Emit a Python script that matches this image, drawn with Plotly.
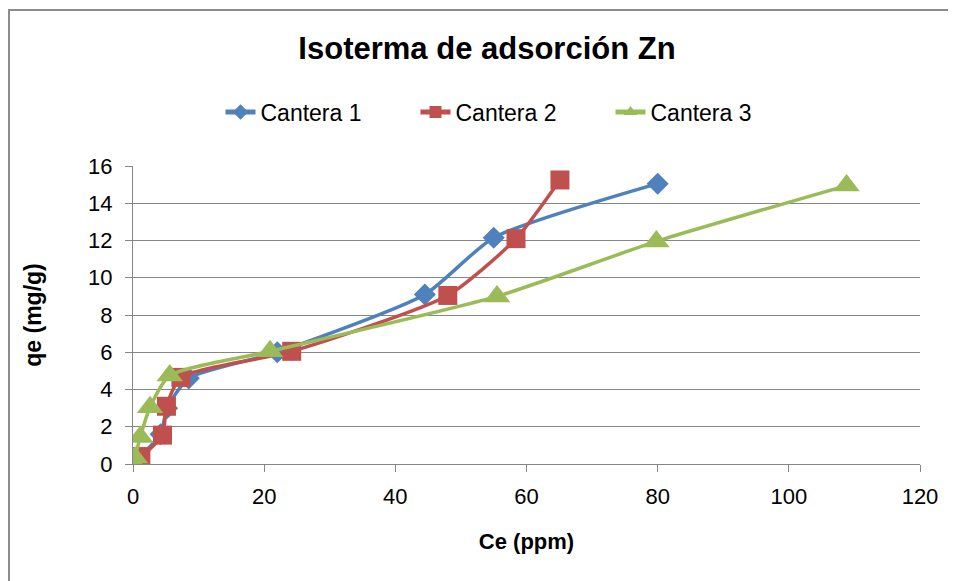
import plotly.graph_objects as go

# Data
ce_c1 = [0.0, 0.8, 4.2, 5.2, 8.5, 22.0, 44.5, 55.0, 80.0]
qe_c1 = [0.1, 0.3, 1.6, 3.0, 4.6, 6.0, 9.1, 12.15, 15.05]

ce_c2 = [0.1, 1.2, 4.5, 5.1, 7.3, 24.2, 48.0, 58.4, 65.1]
qe_c2 = [0.3, 0.4, 1.55, 3.1, 4.65, 6.05, 9.05, 12.1, 15.25]

ce_c3 = [0.0, 0.3, 1.1, 2.6, 5.6, 20.9, 55.5, 79.8, 108.8]
qe_c3 = [0.05, 0.35, 1.45, 3.05, 4.75, 6.05, 9.0, 11.95, 14.95]

names = ["Cantera 1", "Cantera 2", "Cantera 3"]
colors = ["#4F81BD", "#C0504D", "#9BBB59"]
symbols = ["diamond", "square", "triangle-up"]
sizes = [17, 19, 23]

x_ticks = [0, 20, 40, 60, 80, 100, 120]
y_ticks = [0, 2, 4, 6, 8, 10, 12, 14, 16]

FONT = "Liberation Sans, Arial, sans-serif"

fig = go.Figure()
for xs, ys, nm, col, sym, sz in zip([ce_c1, ce_c2, ce_c3], [qe_c1, qe_c2, qe_c3],
                                    names, colors, symbols, sizes):
    fig.add_trace(go.Scatter(
        x=xs, y=ys, name=nm, mode="lines+markers",
        line=dict(color=col, width=3.5, shape="spline", smoothing=0.6),
        marker=dict(symbol=sym, size=sz, color=col),
    ))

# page has an 8px body margin; figure coordinates are screen - 8
OFF = 8
W, H = 948, 573
L, T = 133 - OFF, 166 - OFF
R = W - (920 - OFF)
B = H - (464 - OFF)
pw, ph = W - L - R, H - T - B

fig.update_layout(
    width=W, height=H,
    margin=dict(l=L, r=R, t=T, b=B),
    paper_bgcolor="white", plot_bgcolor="white",
    font=dict(family=FONT, color="#000000"),
    title=dict(text="<b>Isoterma de adsorción Zn</b>", x=(487 - OFF) / W, xanchor="center",
               y=1 - (48 - OFF) / H, yanchor="middle", xref="container", yref="container",
               font=dict(size=31, family=FONT, color="#000000")),
    legend=dict(orientation="h", x=(513 - OFF - L) / pw, xanchor="center",
                y=(H - B - (112 - OFF)) / ph, yanchor="middle",
                font=dict(size=23, family=FONT), itemsizing="constant",
                entrywidth=150, entrywidthmode="pixels", bgcolor="rgba(0,0,0,0)"),
    showlegend=True,
)

fig.update_xaxes(
    range=[0, 120], tickvals=x_ticks, ticktext=[str(v) for v in x_ticks],
    showgrid=False, zeroline=False, showline=True, linecolor="#868686", linewidth=1,
    ticks="outside", ticklen=7, tickcolor="#868686", ticklabelstandoff=6,
    tickfont=dict(size=22, family=FONT, color="#000000"),
    title=dict(text="<b>Ce (ppm)</b>", font=dict(size=22, family=FONT), standoff=25),
)
fig.update_yaxes(
    range=[0, 16], tickvals=y_ticks, ticktext=[str(v) for v in y_ticks],
    showgrid=True, gridcolor="#868686", gridwidth=1,
    zeroline=False, showline=True, linecolor="#868686", linewidth=1,
    ticks="outside", ticklen=7, tickcolor="#868686", ticklabelstandoff=8,
    tickfont=dict(size=22, family=FONT, color="#000000"),
    title=dict(text="<b>qe (mg/g)</b>", font=dict(size=23, family=FONT), standoff=40),
)

# outer chart-area border (extends past right and bottom edges)
fig.add_shape(type="rect", xref="paper", yref="paper",
              x0=(1 - L) / pw, x1=(W + 20 - L) / pw,
              y0=(H - B - (H + 20)) / ph, y1=(H - B - 2) / ph,
              line=dict(color="#8C8C8C", width=2), fillcolor="rgba(0,0,0,0)",
              layer="below")

fig.write_html("out.html")
